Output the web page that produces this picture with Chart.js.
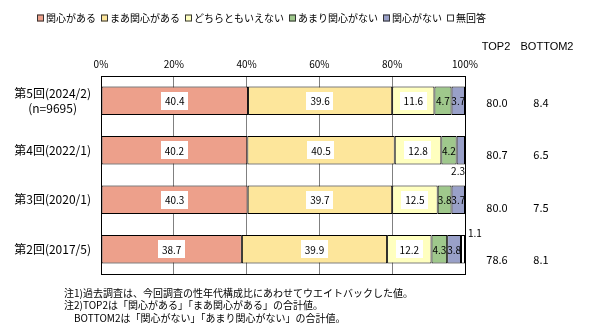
<!DOCTYPE html>
<html><head><meta charset="utf-8">
<script src="https://cdn.jsdelivr.net/npm/chart.js@4"></script>
<style>html,body{margin:0;padding:0;background:#fff;}#wrap{width:591px;height:334px;position:relative;}</style>
</head><body><div id="wrap"><canvas id="c" width="591" height="334"></canvas></div>
<script>
const categories = [["第5回(2024/2)","(n=9695)"], "第4回(2022/1)", "第3回(2020/1)", "第2回(2017/5)"];
const seriesNames = ["関心がある","まあ関心がある","どちらともいえない","あまり関心がない","関心がない","無回答"];
const kanshinAru = [40.4, 40.2, 40.3, 38.7];
const maaKanshinAru = [39.6, 40.5, 39.7, 39.9];
const dochiramo = [11.6, 12.8, 12.5, 12.2];
const amariNai = [4.7, 4.2, 3.8, 4.3];
const kanshinNai = [3.7, 2.3, 3.7, 3.8];
const muKaito = [0, 0, 0, 1.1];
const top2 = [80.0, 80.7, 80.0, 78.6];
const bottom2 = [8.4, 6.5, 7.5, 8.1];
const xTicks = [0, 20, 40, 60, 80, 100];
const notes = ["注1)過去調査は、今回調査の性年代構成比にあわせてウエイトバックした値。",
  "注2)TOP2は「関心がある」「まあ関心がある」の合計値。",
  "　BOTTOM2は「関心がない」「あまり関心がない」の合計値。"];

const colors = ["#EDA08B", "#FDE69B", "#FFFFBF", "#9FC88C", "#99A0C8", "#FFFFFF"];
const seriesData = [kanshinAru, maaKanshinAru, dochiramo, amariNai, kanshinNai, muKaito];
const JP = '"Noto Sans CJK JP", sans-serif';

const labelPlugin = {
  id: 'labels',
  afterDatasetsDraw(chart) {
    const ctx = chart.ctx, ca = chart.chartArea;
    ctx.save();
    ctx.font = '10px ' + JP;
    ctx.textBaseline = 'middle';
    chart.data.datasets.forEach((ds, di) => {
      const meta = chart.getDatasetMeta(di);
      meta.data.forEach((el, j) => {
        const v = ds.data[j];
        if (!v) return;
        const txt = v.toFixed(1);
        const cx = (el.x + el.base) / 2, cy = el.y;
        const w = ctx.measureText(txt).width;
        if (di <= 2) {
          ctx.fillStyle = '#fff';
          ctx.fillRect(Math.round(cx - w/2 - 4), Math.round(cy - 9), Math.round(w + 8), 18);
          ctx.fillStyle = '#000';
          ctx.textAlign = 'center';
          ctx.fillText(txt, cx, cy + 0.5);
        } else if (di <= 4) {
          ctx.fillStyle = '#000';
          if (v < 3) {
            ctx.textAlign = 'right';
            ctx.fillText(txt, ca.right, cy + el.height/2 + 7);
          } else {
            ctx.textAlign = 'center';
            ctx.fillText(txt, cx, cy + 0.5);
          }
        } else {
          ctx.fillStyle = '#000';
          ctx.textAlign = 'left';
          ctx.fillText(txt, ca.right + 3, cy - el.height/2 - 2);
        }
      });
    });
    ctx.restore();
  },
  afterDraw(chart) {
    const ctx = chart.ctx, ca = chart.chartArea;
    const ys = chart.scales.y;
    ctx.save();
    // frame
    ctx.strokeStyle = '#000'; ctx.lineWidth = 1;
    ctx.strokeRect(Math.round(ca.left) + 0.5, Math.round(ca.top) + 0.5, Math.round(ca.right - ca.left), Math.round(ca.bottom - ca.top));
    // legend
    ctx.font = '10px ' + JP;
    ctx.textBaseline = 'middle';
    ctx.textAlign = 'left';
    let x = 37;
    const ly = 18;
    seriesNames.forEach((n, i) => {
      ctx.fillStyle = colors[i];
      ctx.fillRect(x, ly - 3.5, 7, 7);
      ctx.strokeStyle = '#333';
      ctx.strokeRect(x + 0.5, ly - 3.5 + 0.5, 6, 6);
      ctx.fillStyle = '#000';
      ctx.fillText(n, x + 9, ly);
      x += 9 + ctx.measureText(n).width + 5;
    });
    // TOP2/BOTTOM2 table
    const colT = ca.right + 31, colB = ca.right + 77;
    ctx.font = '11px "Liberation Sans", Arial, sans-serif';
    ctx.textAlign = 'center';
    ctx.fillText('TOP2', colT, 47);
    ctx.fillText('BOTTOM2', colB + 5, 47);
    ctx.font = '11px ' + JP;
    top2.forEach((v, i) => {
      const y = ys.getPixelForValue(i) + 2 + i * 2.8;
      ctx.fillText(v.toFixed(1), colT + 1, y);
      ctx.fillText(bottom2[i].toFixed(1), colB - 1, y);
    });
    // notes
    ctx.font = '10px ' + JP;
    ctx.textAlign = 'left';
    notes.forEach((t, i) => ctx.fillText(t, 64, 293 + i * 12.5));
    ctx.restore();
  }
};

new Chart(document.getElementById('c'), {
  type: 'bar',
  data: {
    labels: categories,
    datasets: seriesData.map((d, i) => ({
      label: seriesNames[i],
      data: d,
      backgroundColor: colors[i],
      borderColor: '#000',
      borderWidth: ctx => (ctx.raw > 0 ? 1 : 0),
      borderSkipped: false,
      categoryPercentage: 1,
      barPercentage: 0.576
    }))
  },
  options: {
    indexAxis: 'y',
    responsive: false,
    animation: false,
    layout: { padding: { left: 0, right: 126, top: 56, bottom: 60 } },
    plugins: { legend: { display: false }, tooltip: { enabled: false } },
    scales: {
      x: {
        position: 'top', stacked: true, min: 0, max: 100,
        afterBuildTicks: s => { s.ticks = xTicks.map(v => ({ value: v })); },
        afterFit: s => { s.height = 20; },
        ticks: { callback: v => v + '%', color: '#000', font: { size: 10, family: JP }, padding: 6, maxRotation: 0 },
        grid: { color: c => (c.tick && (c.tick.value === 0 || c.tick.value === 100)) ? 'rgba(0,0,0,0)' : '#808080', drawTicks: false },
        border: { display: false }
      },
      y: {
        stacked: true,
        afterFit: s => { s.width = 101; },
        ticks: { color: '#000', font: { size: 12, family: JP, lineHeight: 1.25 }, crossAlign: 'center', padding: 10 },
        grid: { display: false, drawTicks: false },
        border: { display: false }
      }
    }
  },
  plugins: [labelPlugin]
});
</script></body></html>
